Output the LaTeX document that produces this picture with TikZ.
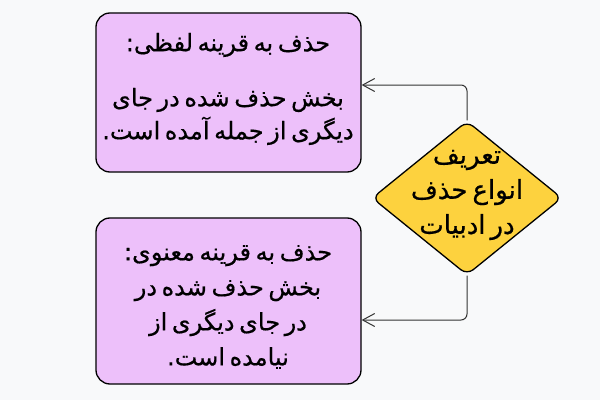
\documentclass[tikz,border=0pt]{standalone}
\usepackage{fontspec}
\usetikzlibrary{shapes.geometric,arrows.meta}
\newfontfamily\arabicfont[Script=Arabic,FakeBold=0.6,WordSpace=0.6]{DejaVu Sans}
\TeXXeTstate=1
\definecolor{bg}{HTML}{F8F9FA}
\definecolor{boxfill}{HTML}{EDC0FA}
\definecolor{diafill}{HTML}{FDD23E}
\begin{document}
\begin{tikzpicture}[x=1pt,y=1pt,
 box/.style={draw=black, line width=1.3pt, fill=boxfill, rounded corners=14pt, minimum width=265pt, inner sep=0pt},
 dia/.style={draw=black, line width=1.3pt, fill=diafill, diamond, minimum width=190pt, minimum height=154pt, inner sep=0pt, rounded corners=8pt},
 txt/.style={font=\arabicfont\fontsize{24}{33}\selectfont, align=center, inner sep=0pt},
 txtb/.style={font=\arabicfont\fontsize{24}{35}\selectfont, align=center, inner sep=0pt},
 txtd/.style={font=\arabicfont\fontsize{26}{35}\selectfont, align=center, inner sep=0pt},
 conn/.style={draw=black!80, line width=1pt, rounded corners=6pt, -{Straight Barb[length=12pt,width=13pt]}}]
\fill[bg] (0,0) rectangle (600,400);
\useasboundingbox (0,0) rectangle (600,400);
\node[box, minimum height=159pt] (top) at (228.5,307.5) {};
\node[box, minimum height=166pt] (bot) at (228.5,99) {};
\node[dia] (d) at (467,202) {};
\node[txt] (toptitle) at (228,355) {\beginR حذف به قرینه لفظی:\endR};
\node[txt] (topbody) at (228,283.5) {\beginR بخش حذف شده در جای\endR\\\beginR دیگری از جمله آمده است.\endR};
\node[txtb] (botbody) at (228,93) {\beginR حذف به قرینه معنوی:\endR\\\beginR بخش حذف شده در\endR\\\beginR در جای دیگری از\endR\\\beginR نیامده است.\endR};
\node[txtd] (dtext) at (467,205) {\beginR تعریف\endR\\\beginR انواع حذف\endR\\\beginR در ادبیات\endR};
\coordinate (e1) at (top.east |- 0,315);
\coordinate (e2) at (bot.east |- 0,80);
\draw[conn] (d.north) |- (e1);
\draw[conn] (d.south) |- (e2);
\end{tikzpicture}
\end{document}
